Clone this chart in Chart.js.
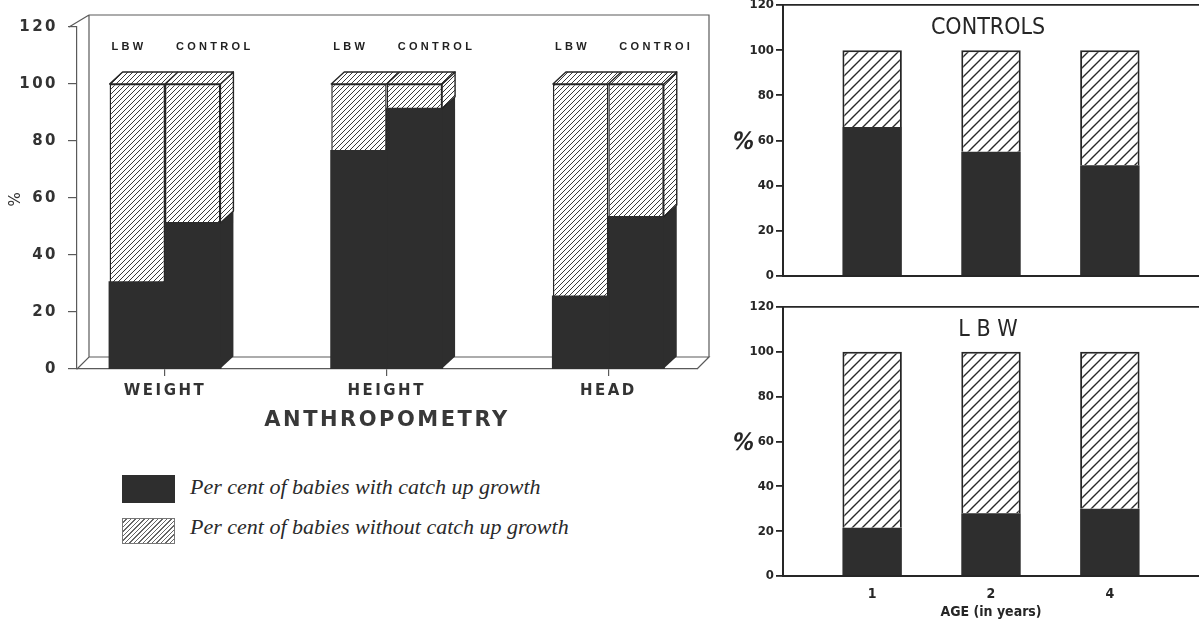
<!DOCTYPE html>
<html><head><meta charset="utf-8">
<script src="https://cdn.jsdelivr.net/npm/chart.js@4.4.1/dist/chart.umd.min.js"></script>
<style>
html,body{margin:0;padding:0;background:#fff;}
body{width:1199px;height:622px;position:relative;overflow:hidden;}
canvas{position:absolute;display:block;}
#c1{left:0;top:0;}
#c2{left:720px;top:0;}
#c3{left:720px;top:290px;}
.box{position:absolute;left:122px;width:53px;}
.leg{position:absolute;left:190px;font-family:'Liberation Serif','Times New Roman',serif;font-style:italic;font-size:22px;color:#2a2a2a;white-space:nowrap;line-height:1;}
</style></head><body>
<canvas id="c1" width="720" height="440"></canvas>
<canvas id="c2" width="479" height="290"></canvas>
<canvas id="c3" width="479" height="332"></canvas>

<div class="box" style="top:475px;height:28px;background:#2e2e2e"></div>
<div class="box" style="top:518px;height:26px;border:1px solid #777;box-sizing:border-box;background:repeating-linear-gradient(-45deg,#fff 0 2.2px,#666 2.2px 3.2px)"></div>
<div class="leg" id="leg1" style="top:476px"></div>
<div class="leg" id="leg2" style="top:516px"></div>

<script>
// ---------- data ----------
const anthroCategories = ['WEIGHT', 'HEIGHT', 'HEAD'];
const barGroupLabels = [['LBW', 'CONTROL'], ['LBW', 'CONTROL'], ['LBW', 'CONTROI']];
const lbwWith = [30.4, 76.5, 25.4];
const lbwWithout = [69.6, 23.5, 74.6];
const controlWith = [51.2, 91.3, 53.3];
const controlWithout = [48.8, 8.7, 46.7];

const ageLabels = ['1', '2', '4'];
const controlsAgeWith = [66, 55, 49];
const controlsAgeWithout = [34, 45, 51];
const lbwAgeWith = [21.5, 28, 30];
const lbwAgeWithout = [78.5, 72, 70];

const seriesNames = ['Per cent of babies with catch up growth', 'Per cent of babies without catch up growth'];
const leftAxisTitle = 'ANTHROPOMETRY';
const leftYTitle = '%';
const rightYTitle = '%';
const ageAxisTitle = 'AGE (in years)';
const topPanelTitle = 'CONTROLS';
const bottomPanelTitle = 'L B W';

// ---------- styles ----------
const DARK = '#2e2e2e';
const INK = '#262626';
const LINE = '#5a5a5a';

function makeHatch(period, lw, color) {
  const c = document.createElement('canvas');
  c.width = c.height = period;
  const g = c.getContext('2d');
  g.fillStyle = '#ffffff'; g.fillRect(0, 0, period, period);
  g.strokeStyle = color; g.lineWidth = lw;
  g.beginPath();
  g.moveTo(-1, period + 1); g.lineTo(period + 1, -1);
  g.moveTo(-period / 2 - 1, period / 2 + 1); g.lineTo(period / 2 + 1, -period / 2 - 1);
  g.moveTo(period / 2 - 1, period * 1.5 + 1); g.lineTo(period * 1.5 + 1, period / 2 - 1);
  g.stroke();
  return g.createPattern(c, 'repeat');
}
const hatchFine = makeHatch(5, 1, '#3a3a3a');
const hatchWide = makeHatch(10, 1.4, '#2a2a2a');

const xy = arr => arr.map((v, i) => ({ x: i + 1, y: v }));

document.getElementById('leg1').textContent = seriesNames[0];
document.getElementById('leg2').textContent = seriesNames[1];

// ---------- plugins ----------
const spacing = {
  id: 'spacing',
  beforeDraw(chart, args, opts) { chart.ctx.letterSpacing = opts.value || '0px'; }
};

const frame3d = {
  id: 'frame3d',
  beforeDatasetsDraw(chart, args, opts) {
    const { ctx, chartArea: a } = chart;
    const dx = opts.dx, dy = opts.dy;
    ctx.save();
    ctx.strokeStyle = LINE; ctx.lineWidth = 1.2;
    ctx.beginPath();
    ctx.moveTo(a.left + dx, a.bottom - dy);
    ctx.lineTo(a.left + dx, a.top - dy);
    ctx.lineTo(a.right + dx, a.top - dy);
    ctx.lineTo(a.right + dx, a.bottom - dy);
    ctx.moveTo(a.left - 8, a.top); ctx.lineTo(a.left + dx, a.top - dy);
    ctx.moveTo(a.left, a.bottom); ctx.lineTo(a.left + dx, a.bottom - dy);
    ctx.lineTo(a.right + dx, a.bottom - dy);
    ctx.lineTo(a.right, a.bottom);
    ctx.stroke();
    ctx.restore();
  }
};

const bars3d = {
  id: 'bars3d',
  afterDatasetsDraw(chart, args, opts) {
    const { ctx } = chart;
    const el = i => chart.getDatasetMeta(i).data.map(e => e.getProps(['x', 'y', 'base', 'width'], true));
    const lh = el(1), cw = el(2), ch = el(3);
    const dx = opts.dx, dy = opts.dy;
    const poly = (pts, fill, stroke) => {
      ctx.beginPath();
      pts.forEach((p, k) => k ? ctx.lineTo(p[0], p[1]) : ctx.moveTo(p[0], p[1]));
      ctx.closePath();
      ctx.fillStyle = fill; ctx.fill();
      if (stroke) ctx.stroke();
    };
    ctx.save();
    ctx.strokeStyle = INK; ctx.lineWidth = 1.4; ctx.lineJoin = 'round';
    for (let i = 0; i < cw.length; i++) {
      const L = lh[i].x - lh[i].width / 2;
      const M = ch[i].x - ch[i].width / 2;
      const R = ch[i].x + ch[i].width / 2;
      const top = Math.min(lh[i].y, ch[i].y);
      const base = cw[i].base;
      const yd = cw[i].y;
      poly([[R, base], [R + dx, base - dy], [R + dx, yd - dy], [R, yd]], DARK, false);
      poly([[R, yd], [R + dx, yd - dy], [R + dx, top - dy], [R, top]], hatchFine, true);
      poly([[L, top], [L + dx, top - dy], [R + dx, top - dy], [R, top]], hatchFine, true);
      ctx.beginPath(); ctx.moveTo(M, top); ctx.lineTo(M + dx, top - dy); ctx.stroke();
      ctx.fillStyle = '#222';
      ctx.font = 'bold 11px "Liberation Sans", Arial, sans-serif';
      ctx.letterSpacing = '3.3px';
      ctx.textAlign = 'left'; ctx.textBaseline = 'middle';
      const ly = chart.chartArea.top + 20;
      ctx.fillText(barGroupLabels[i][0], L + 2, ly);
      ctx.fillText(barGroupLabels[i][1], M + 11, ly);
    }
    ctx.restore();
  }
};

const insideTitle = {
  id: 'insideTitle',
  afterDraw(chart, args, opts) {
    const { ctx, chartArea: a } = chart;
    ctx.save();
    ctx.fillStyle = INK;
    ctx.font = opts.font;
    ctx.textAlign = 'center'; ctx.textBaseline = 'middle';
    ctx.fillText(opts.text, (a.left + a.right) / 2 - 3, a.top + 23);
    ctx.restore();
  }
};

const sideLabel = {
  id: 'sideLabel',
  afterDraw(chart, args, opts) {
    const { ctx } = chart;
    const y = chart.scales.y.getPixelForValue(60);
    ctx.save();
    ctx.fillStyle = INK;
    ctx.font = 'bold 24px "DejaVu Sans Condensed", sans-serif';
    ctx.textAlign = 'center'; ctx.textBaseline = 'middle';
    ctx.translate(opts.x, y + 2);
    ctx.transform(1, 0, -0.2, 1, 0, 0);
    ctx.fillText(opts.text, 0, 0);
    ctx.restore();
  }
};

const common = { responsive: false, animation: false, events: [], devicePixelRatio: 1 };

// ---------- left chart ----------
const leftFont = { family: '"DejaVu Sans", sans-serif', weight: 'bold', size: 15 };
new Chart(document.getElementById('c1'), {
  type: 'bar',
  data: {
    datasets: [
      { label: seriesNames[0], data: xy(lbwWith), stack: 'lbw', backgroundColor: DARK, borderWidth: 0, inflateAmount: 1 },
      { label: seriesNames[1], data: xy(lbwWithout), stack: 'lbw', backgroundColor: hatchFine, borderColor: INK, borderWidth: 1.5, borderSkipped: 'bottom' },
      { label: seriesNames[0], data: xy(controlWith), stack: 'control', backgroundColor: DARK, borderWidth: 0, inflateAmount: 1 },
      { label: seriesNames[1], data: xy(controlWithout), stack: 'control', backgroundColor: hatchFine, borderColor: INK, borderWidth: 1.5, borderSkipped: 'bottom' }
    ]
  },
  options: Object.assign({}, common, {
    layout: { padding: { top: 27, right: 23, bottom: 3, left: 0 } },
    datasets: { bar: { categoryPercentage: 0.5, barPercentage: 1 } },
    scales: {
      x: {
        type: 'linear', min: 0.603, max: 3.40, stacked: true, offset: false, bounds: 'data',
        afterBuildTicks(s) { s.ticks = anthroCategories.map((c, i) => ({ value: i + 1 })); },
        afterFit(s) { s.height = 68; s.paddingLeft = 0; s.paddingRight = 0; },
        ticks: { callback: v => anthroCategories[v - 1], font: leftFont, color: '#333', padding: 6, maxRotation: 0, autoSkip: false },
        grid: { display: true, offset: false, drawOnChartArea: false, tickLength: 7, color: LINE, lineWidth: 1.2 },
        border: { display: true, color: LINE, width: 1.2 },
        title: { display: true, text: leftAxisTitle, color: '#383838', font: { family: '"DejaVu Sans", sans-serif', weight: 'bold', size: 21 }, padding: { top: 4, bottom: 4 } }
      },
      y: {
        min: 0, max: 120, stacked: true,
        afterFit(s) { s.width = 77; s.paddingTop = 0; s.paddingBottom = 0; },
        ticks: { stepSize: 20, font: leftFont, color: '#333', padding: 10 },
        grid: { display: true, drawOnChartArea: false, tickLength: 9, color: LINE, lineWidth: 1.2 },
        border: { display: true, color: LINE, width: 1.2 },
        title: { display: true, text: leftYTitle, color: '#333', font: { family: '"DejaVu Sans", sans-serif', size: 15 }, padding: 7 }
      }
    },
    plugins: {
      legend: { display: false }, tooltip: { enabled: false },
      spacing: { value: '2.5px' },
      frame3d: { dx: 12, dy: 12 },
      bars3d: { dx: 13, dy: 12 }
    }
  }),
  plugins: [spacing, frame3d, bars3d]
});

// ---------- right charts ----------
const condFont = { family: '"DejaVu Sans Condensed", "DejaVu Sans", sans-serif', weight: 'bold', size: 13 };
function ageChart(id, title, withVals, withoutVals, showX, padTop, xHeight) {
  return new Chart(document.getElementById(id), {
    type: 'bar',
    data: {
      datasets: [
        { label: seriesNames[0], data: xy(withVals), backgroundColor: DARK, borderWidth: 0 },
        { label: seriesNames[1], data: xy(withoutVals), backgroundColor: hatchWide, borderColor: INK, borderWidth: 2, borderSkipped: 'bottom' }
      ]
    },
    options: Object.assign({}, common, {
      layout: { padding: { top: padTop, right: 0, bottom: 0, left: 0 } },
      datasets: { bar: { categoryPercentage: 1, barPercentage: 0.5 } },
      scales: {
        x: {
          type: 'linear', min: 0.25, max: 3.75, stacked: true, offset: false, bounds: 'data',
          afterBuildTicks(s) { s.ticks = ageLabels.map((c, i) => ({ value: i + 1 })); },
          afterFit(s) { s.height = xHeight; s.paddingLeft = 0; s.paddingRight = 0; },
          ticks: { display: showX, callback: v => ageLabels[v - 1], font: { family: condFont.family, weight: 'bold', size: 14 }, color: INK, padding: 10, maxRotation: 0, autoSkip: false },
          grid: { display: false, offset: false, drawTicks: false },
          border: { display: true, color: INK, width: 2 },
          title: { display: showX, text: ageAxisTitle, color: INK, font: { family: condFont.family, weight: 'bold', size: 14 }, padding: { top: 1, bottom: 1 } }
        },
        y: {
          min: 0, max: 120, stacked: true,
          afterFit(s) { s.width = 63; s.paddingTop = 0; s.paddingBottom = 0; },
          ticks: { stepSize: 20, font: condFont, color: INK, padding: 2 },
          grid: { display: true, drawOnChartArea: true, color: c => (c.tick && c.tick.value === 120) ? INK : 'rgba(0,0,0,0)', tickColor: INK, tickLength: 7, lineWidth: 1.8 },
          border: { display: true, color: INK, width: 2 }
        }
      },
      plugins: {
        legend: { display: false }, tooltip: { enabled: false },
        insideTitle: { text: title, font: '23px "DejaVu Sans Condensed", "DejaVu Sans", sans-serif' },
        sideLabel: { text: rightYTitle, x: 23 }
      }
    }),
    plugins: [insideTitle, sideLabel]
  });
}
ageChart('c2', topPanelTitle, controlsAgeWith, controlsAgeWithout, false, 5, 14);
ageChart('c3', bottomPanelTitle, lbwAgeWith, lbwAgeWithout, true, 17, 46);
</script>
</body></html>
